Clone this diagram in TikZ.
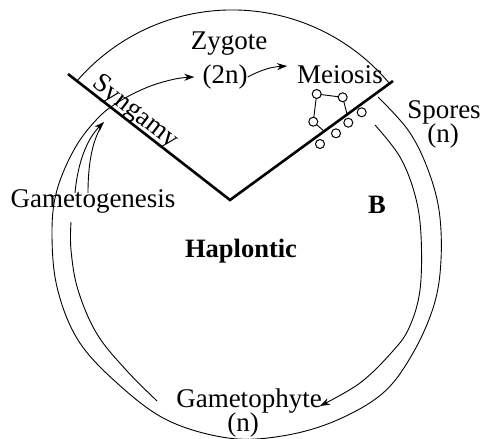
\documentclass[tikz,border=0pt]{standalone}
\usepackage{fontspec}
\setmainfont{Liberation Serif}
\usetikzlibrary{arrows.meta}
\begin{document}
\begin{tikzpicture}[x=1pt,y=-1pt,
  lbl/.style={inner sep=0pt, font=\fontsize{27}{29}\selectfont},
  blbl/.style={inner sep=0pt, font=\fontsize{26.5}{29}\selectfont\bfseries},
  curve/.style={line width=0.9pt},
  arr/.style={curve, -{Stealth[length=10pt,width=7pt]}},
  vline/.style={line width=2.6pt},
  spore/.style={circle, draw, line width=1pt, minimum size=9pt, inner sep=0pt, fill=white}
]
\useasboundingbox (0,0) rectangle (483,439);

% labels
\node[lbl] (zyg) at (229,44) {Zygote};
\node[lbl] (twon) at (225,77) {(2n)};
\node[lbl] (mei) at (340,75) {Meiosis};
\node[lbl] (spo) at (444,112) {Spores};
\node[lbl] (spon) at (443,136) {(n)};
\node[lbl] (gen) at (93,201) {Gametogenesis};
\node[blbl] (b) at (377,205) {B};
\node[blbl] (hap) at (241,251) {Haplontic};
\node[lbl] (gph) at (249,401) {Gametophyte};
\node[lbl] (gphn) at (243,425.5) {(n)};
\node[lbl, rotate=-37.9] (syn) at (135,112.5) {Syngamy};

% V shape
\coordinate (VL) at (68,74);
\coordinate (VV) at (230,200);
\coordinate (VR) at (393,81);
\draw[vline] (VL) -- (VV) -- (VR);

% top arc
\draw[curve] (77,81) arc[start angle=-139.2, end angle=-40, radius=205];
\draw[line width=2pt] (232,10) ++(-94:205) arc[start angle=-94, end angle=-86, radius=205];

% outer loop ending at Zygote
\coordinate (oStart) at (378,97);
\coordinate (zin) at ([xshift=-8pt]twon.west);
\draw[arr] plot[smooth, tension=0.6] coordinates {(oStart) (408,130) (427,167) (439,210) (441,260) (434,305) (413,353) (383,393) (335,421) (282,436) (228,438) (167,420) (117,383) (78,340) (57,287) (52,232) (57,190) (75,148) (98,118) (120,101) (148,87) (175,79) (zin)};

% inner right arc: Spores to Gametophyte
\coordinate (iStart) at (375,125);
\coordinate (gin) at ([xshift=-2pt,yshift=-5pt]gph.east);
\draw[arr] plot[smooth, tension=0.6] coordinates {(iStart) (400,157) (415,195) (421,235) (420,290) (409,328) (392,352) (360,383) (gin)};

% inner left arc: Gametophyte to Gametogenesis
\coordinate (gout) at ([xshift=-19pt]gph.west);
\coordinate (genb) at (71,222);
\draw[curve] plot[smooth, tension=0.6] coordinates {(gout) (127,371) (97,334) (78,290) (71,250) (genb)};

% Gametogenesis to Syngamy
\coordinate (tip) at (104,122);
\coordinate (g1) at (75,193);
\coordinate (g2) at (88,193);
\draw[arr] (g1) .. controls (78,160) and (88,138) .. (tip);
\draw[curve] (g2) .. controls (88,165) and (92,142) .. (101,127);

% Zygote to Meiosis
\coordinate (min) at ([xshift=-10pt,yshift=9pt]mei.west);
\draw[arr] (twon.east) to[bend left=12] (min);

% spores
\coordinate (k1) at (347,114);
\coordinate (k2) at (325,132);
\draw[curve] (342.7,97.3) -- (k1);
\draw[curve] (313.3,121.7) -- (k2);
\draw[curve] (316.7,94) -- (342.7,97.3);
\draw[curve] (316.7,94) -- (313.3,121.7);
\node[spore] (s1) at (316.7,94) {};
\node[spore] (s2) at (342.7,97.3) {};
\node[spore] (s3) at (313.3,121.7) {};
\node[spore] (s4) at (348.3,122.7) {};
\node[spore] (s5) at (361.7,112.3) {};
\node[spore] (s6) at (336,133.3) {};
\node[spore] (s7) at (320,144) {};
\end{tikzpicture}
\end{document}
